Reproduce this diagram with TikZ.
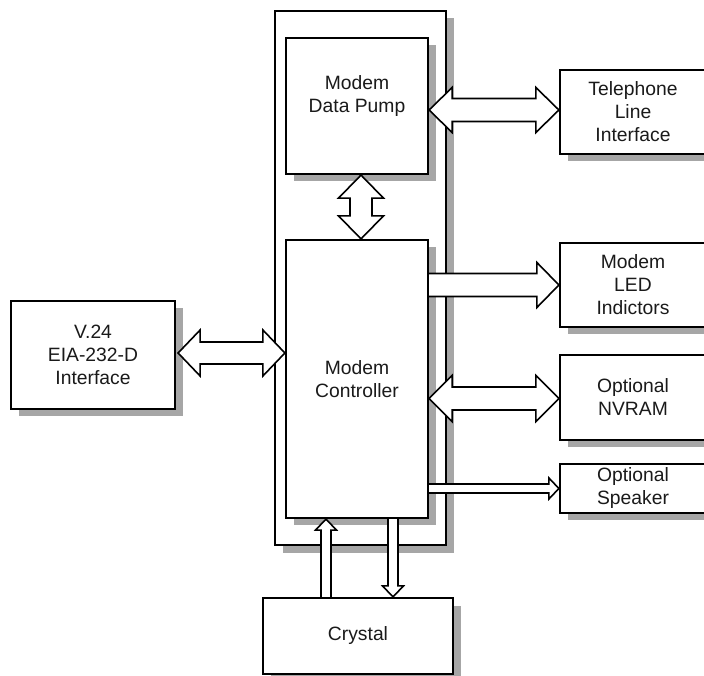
\documentclass[tikz,border=0pt]{standalone}
\usepackage{fontspec}
\setmainfont{Liberation Sans}
\usetikzlibrary{shadows,calc}
\definecolor{shadowgray}{HTML}{A6A6A6}
\definecolor{txt}{HTML}{1A1A1A}
\tikzset{
  blk/.style={draw=black, line width=2.2pt, fill=white, inner sep=0pt,
    align=center, text=txt, font=\fontsize{19.3}{23}\selectfont,
    drop shadow={shadow xshift=7.5pt, shadow yshift=-7.5pt, fill=shadowgray, opacity=1}},
  arr/.style={draw=black, line width=1.6pt, fill=white, line join=miter}
}
\newcommand\dblH[5]{\draw[arr] let \p1=#1, \p2=#2 in
  (\x1,\y1) -- (\x1+#5pt,\y1+#4pt) -- (\x1+#5pt,\y1+#3pt) -- (\x2-#5pt,\y1+#3pt)
  -- (\x2-#5pt,\y1+#4pt) -- (\x2,\y1) -- (\x2-#5pt,\y1-#4pt) -- (\x2-#5pt,\y1-#3pt)
  -- (\x1+#5pt,\y1-#3pt) -- (\x1+#5pt,\y1-#4pt) -- cycle;}
\newcommand\sglH[5]{\draw[arr] let \p1=#1, \p2=#2 in
  (\x1,\y1+#3pt) -- (\x2-#5pt,\y1+#3pt) -- (\x2-#5pt,\y1+#4pt) -- (\x2,\y1)
  -- (\x2-#5pt,\y1-#4pt) -- (\x2-#5pt,\y1-#3pt) -- (\x1,\y1-#3pt);}
\newcommand\dblV[5]{\draw[arr] let \p1=#1, \p2=#2 in
  (\x1,\y1) -- (\x1+#4pt,\y1-#5pt) -- (\x1+#3pt,\y1-#5pt) -- (\x1+#3pt,\y2+#5pt)
  -- (\x1+#4pt,\y2+#5pt) -- (\x1,\y2) -- (\x1-#4pt,\y2+#5pt) -- (\x1-#3pt,\y2+#5pt)
  -- (\x1-#3pt,\y1-#5pt) -- (\x1-#4pt,\y1-#5pt) -- cycle;}
\newcommand\sglUp[5]{\draw[arr] let \p1=#1, \p2=#2 in
  (\x1+#3pt,\y1) -- (\x1+#3pt,\y2-#5pt) -- (\x1+#4pt,\y2-#5pt) -- (\x1,\y2)
  -- (\x1-#4pt,\y2-#5pt) -- (\x1-#3pt,\y2-#5pt) -- (\x1-#3pt,\y1);}
\newcommand\sglDown[5]{\draw[arr] let \p1=#1, \p2=#2 in
  (\x1+#3pt,\y1) -- (\x1+#3pt,\y2+#5pt) -- (\x1+#4pt,\y2+#5pt) -- (\x1,\y2)
  -- (\x1-#4pt,\y2+#5pt) -- (\x1-#3pt,\y2+#5pt) -- (\x1-#3pt,\y1);}
\begin{document}
\begin{tikzpicture}[x=1pt,y=1pt]
\useasboundingbox (0,0) rectangle (704,675);
\clip (0,0) rectangle (704,675);
\fill[white] (0,0) rectangle (704,675);
% outer module box
\node[blk, minimum width=171pt, minimum height=534pt] (outer) at (360.5,397) {};
% inner blocks
\node[blk, minimum width=142pt, minimum height=136pt, text depth=24pt] (pump) at (357,569) {Modem\\Data Pump};
\node[blk, minimum width=142pt, minimum height=278pt] (ctrl) at (357,296) {Modem\\Controller};
% right blocks
\node[blk, minimum width=146pt, minimum height=84pt] (tel) at (633,563) {Telephone\\Line\\Interface};
\node[blk, minimum width=146pt, minimum height=84pt] (led) at (633,390) {Modem\\LED\\Indictors};
\node[blk, minimum width=146pt, minimum height=85pt] (nvram) at (633,277.5) {Optional\\NVRAM};
\node[blk, minimum width=146pt, minimum height=49pt] (spk) at (633,186.5) {Optional\\Speaker};
% left block
\node[blk, minimum width=164pt, minimum height=108pt] (v24) at (93,320) {V.24\\EIA-232-D\\Interface};
% crystal
\node[blk, minimum width=190pt, minimum height=76pt] (crys) at (358,39) {Crystal};
% connectors
\dblH{($(pump.east)+(0,-4)$)}{(tel.west)}{11.5}{22.5}{23}
\dblH{($(v24.east)+(2,2)$)}{(ctrl.west)}{11}{23}{22}
\sglH{(ctrl.east|-led.west)}{(led.west)}{11.5}{22.5}{22}
\dblH{($(ctrl.east|-nvram.west)+(0,-1)$)}{(nvram.west)}{11.5}{23}{23}
\sglH{(ctrl.east|-spk.west)}{(spk.west)}{4.5}{10.5}{10}
\dblV{($(pump.south)+(4,0)$)}{(ctrl.north)}{11}{22.5}{23}
\sglUp{($(crys.north)+(-32,0)$)}{(ctrl.south)}{5}{10.5}{11}
\sglDown{($(ctrl.south)+(36,0)$)}{(crys.north)}{5}{10.5}{11}
\end{tikzpicture}
\end{document}
